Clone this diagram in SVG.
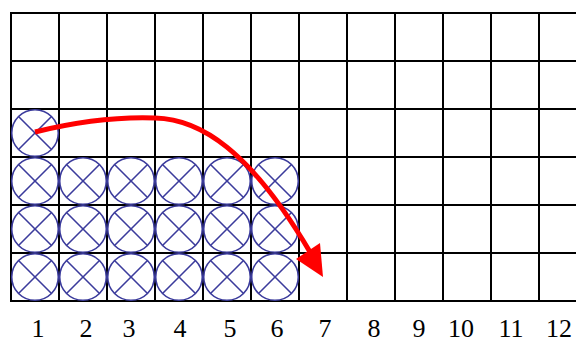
<svg xmlns="http://www.w3.org/2000/svg" xmlns:xlink="http://www.w3.org/1999/xlink" width="576" height="343" viewBox="0 0 576 343">
<style>
.grid line{stroke:#000;stroke-width:2}
.cc{fill:none;stroke:#3b3b9c;stroke-width:1.6}
.lbl{font-family:"Liberation Serif","Times New Roman",serif;font-size:26px;fill:#000;text-anchor:middle}
.arc{fill:none;stroke:#ff0000;stroke-width:5}
</style>
<defs>
<g id="xc">
<circle class="cc" cx="0" cy="0" r="23.3"/>
<line class="cc" x1="-16.5" y1="-16.5" x2="16.5" y2="16.5"/>
<line class="cc" x1="-16.5" y1="16.5" x2="16.5" y2="-16.5"/>
</g>
</defs>
<rect width="576" height="343" fill="#fff"/>
<g class="grid" id="grid">
<line x1="11" y1="13" x2="576" y2="13"/>
<line x1="11" y1="61" x2="576" y2="61"/>
<line x1="11" y1="109" x2="576" y2="109"/>
<line x1="11" y1="157" x2="576" y2="157"/>
<line x1="11" y1="205" x2="576" y2="205"/>
<line x1="11" y1="253" x2="576" y2="253"/>
<line x1="11" y1="301" x2="576" y2="301"/>
<line x1="11" y1="12" x2="11" y2="302"/>
<line x1="59" y1="12" x2="59" y2="302"/>
<line x1="107" y1="12" x2="107" y2="302"/>
<line x1="155" y1="12" x2="155" y2="302"/>
<line x1="203" y1="12" x2="203" y2="302"/>
<line x1="251" y1="12" x2="251" y2="302"/>
<line x1="299" y1="12" x2="299" y2="302"/>
<line x1="347" y1="12" x2="347" y2="302"/>
<line x1="395" y1="12" x2="395" y2="302"/>
<line x1="443" y1="12" x2="443" y2="302"/>
<line x1="491" y1="12" x2="491" y2="302"/>
<line x1="539" y1="12" x2="539" y2="302"/>
</g>
<g id="n-r3c1"><use xlink:href="#xc" href="#xc" x="35" y="133"/></g>
<g id="n-r4c1"><use xlink:href="#xc" href="#xc" x="35" y="181"/></g>
<g id="n-r4c2"><use xlink:href="#xc" href="#xc" x="83" y="181"/></g>
<g id="n-r4c3"><use xlink:href="#xc" href="#xc" x="131" y="181"/></g>
<g id="n-r4c4"><use xlink:href="#xc" href="#xc" x="179" y="181"/></g>
<g id="n-r4c5"><use xlink:href="#xc" href="#xc" x="227" y="181"/></g>
<g id="n-r4c6"><use xlink:href="#xc" href="#xc" x="275" y="181"/></g>
<g id="n-r5c1"><use xlink:href="#xc" href="#xc" x="35" y="229"/></g>
<g id="n-r5c2"><use xlink:href="#xc" href="#xc" x="83" y="229"/></g>
<g id="n-r5c3"><use xlink:href="#xc" href="#xc" x="131" y="229"/></g>
<g id="n-r5c4"><use xlink:href="#xc" href="#xc" x="179" y="229"/></g>
<g id="n-r5c5"><use xlink:href="#xc" href="#xc" x="227" y="229"/></g>
<g id="n-r5c6"><use xlink:href="#xc" href="#xc" x="275" y="229"/></g>
<g id="n-r6c1"><use xlink:href="#xc" href="#xc" x="35" y="277"/></g>
<g id="n-r6c2"><use xlink:href="#xc" href="#xc" x="83" y="277"/></g>
<g id="n-r6c3"><use xlink:href="#xc" href="#xc" x="131" y="277"/></g>
<g id="n-r6c4"><use xlink:href="#xc" href="#xc" x="179" y="277"/></g>
<g id="n-r6c5"><use xlink:href="#xc" href="#xc" x="227" y="277"/></g>
<g id="n-r6c6"><use xlink:href="#xc" href="#xc" x="275" y="277"/></g>
<g id="connectors">
<path class="arc" d="M35,132 Q100,116 155,118 C200,119 250,150 310,252"/>
<polygon points="323,277 296,259 320,243" fill="#ff0000"/>
</g>
<g id="labels">
<text class="lbl" x="38" y="337">1</text>
<text class="lbl" x="86" y="337">2</text>
<text class="lbl" x="129" y="337">3</text>
<text class="lbl" x="180" y="337">4</text>
<text class="lbl" x="230" y="337">5</text>
<text class="lbl" x="277" y="337">6</text>
<text class="lbl" x="325" y="337">7</text>
<text class="lbl" x="374" y="337">8</text>
<text class="lbl" x="419" y="337">9</text>
<text class="lbl" x="461" y="337">10</text>
<text class="lbl" x="511" y="337">11</text>
<text class="lbl" x="559" y="337">12</text>
</g>
</svg>
